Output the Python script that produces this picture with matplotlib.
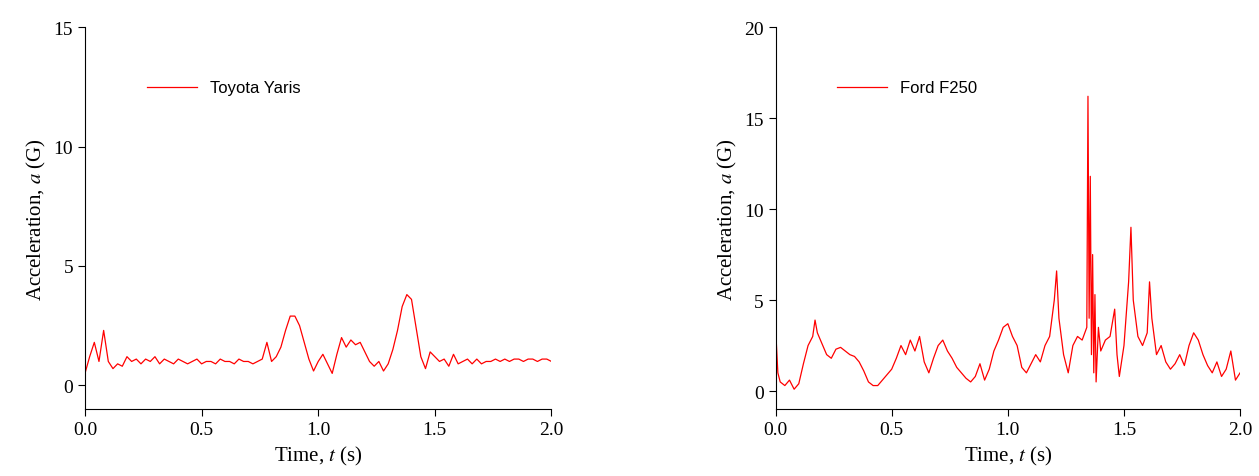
import numpy as np
import matplotlib.pyplot as plt

plt.rcParams["mathtext.fontset"] = "stix"

# ── Data ──────────────────────────────────────────────────────────────────────
yaris_t = [i * 0.02 for i in range(101)]
yaris_a = [0.5, 1.2, 1.8, 1.0, 2.3, 1.0, 0.7, 0.9, 0.8, 1.2,
           1.0, 1.1, 0.9, 1.1, 1.0, 1.2, 0.9, 1.1, 1.0, 0.9,
           1.1, 1.0, 0.9, 1.0, 1.1, 0.9, 1.0, 1.0, 0.9, 1.1,
           1.0, 1.0, 0.9, 1.1, 1.0, 1.0, 0.9, 1.0, 1.1, 1.8,
           1.0, 1.2, 1.6, 2.3, 2.9, 2.9, 2.5, 1.8, 1.1, 0.6,
           1.0, 1.3, 0.9, 0.5, 1.3, 2.0, 1.6, 1.9, 1.7, 1.8,
           1.4, 1.0, 0.8, 1.0, 0.6, 0.9, 1.5, 2.3, 3.3, 3.8,
           3.6, 2.4, 1.2, 0.7, 1.4, 1.2, 1.0, 1.1, 0.8, 1.3,
           0.9, 1.0, 1.1, 0.9, 1.1, 0.9, 1.0, 1.0, 1.1, 1.0,
           1.1, 1.0, 1.1, 1.1, 1.0, 1.1, 1.1, 1.0, 1.1, 1.1, 1.0]

ford_t = [0.00, 0.01, 0.02, 0.04, 0.06, 0.08, 0.10, 0.12, 0.14, 0.16, 0.17, 0.18,
          0.20, 0.22, 0.24, 0.26, 0.28, 0.30, 0.32, 0.34, 0.36, 0.38, 0.40, 0.42,
          0.44, 0.46, 0.48, 0.50, 0.52, 0.54, 0.56, 0.58, 0.60, 0.62, 0.64, 0.66,
          0.68, 0.70, 0.72, 0.74, 0.76, 0.78, 0.80, 0.82, 0.84, 0.86, 0.88, 0.90,
          0.92, 0.94, 0.96, 0.98, 1.00, 1.02, 1.04, 1.06, 1.08, 1.10, 1.12, 1.14,
          1.16, 1.18, 1.20, 1.21, 1.22, 1.24, 1.26, 1.28, 1.30, 1.32, 1.34, 1.345,
          1.35, 1.355, 1.36, 1.365, 1.37, 1.375, 1.38, 1.39, 1.40, 1.42, 1.44, 1.46,
          1.47, 1.48, 1.50, 1.52, 1.53, 1.54, 1.56, 1.58, 1.60, 1.61, 1.62, 1.64,
          1.66, 1.68, 1.70, 1.72, 1.74, 1.76, 1.78, 1.80, 1.82, 1.84, 1.86, 1.88,
          1.90, 1.92, 1.94, 1.96, 1.98, 2.00]
ford_a = [3.5, 1.0, 0.5, 0.3, 0.6, 0.1, 0.4, 1.5, 2.5, 3.0, 3.9, 3.2,
          2.6, 2.0, 1.8, 2.3, 2.4, 2.2, 2.0, 1.9, 1.6, 1.1, 0.5, 0.3,
          0.3, 0.6, 0.9, 1.2, 1.8, 2.5, 2.0, 2.8, 2.2, 3.0, 1.6, 1.0,
          1.8, 2.5, 2.8, 2.2, 1.8, 1.3, 1.0, 0.7, 0.5, 0.8, 1.5, 0.6,
          1.2, 2.2, 2.8, 3.5, 3.7, 3.0, 2.5, 1.3, 1.0, 1.5, 2.0, 1.6,
          2.5, 3.0, 5.0, 6.6, 4.0, 2.0, 1.0, 2.5, 3.0, 2.8, 3.5, 16.2,
          4.0, 11.8, 2.0, 7.5, 1.0, 5.3, 0.5, 3.5, 2.2, 2.8, 3.0, 4.5,
          2.0, 0.8, 2.5, 6.0, 9.0, 5.0, 3.0, 2.5, 3.2, 6.0, 4.0, 2.0,
          2.5, 1.6, 1.2, 1.5, 2.0, 1.4, 2.5, 3.2, 2.8, 2.0, 1.4, 1.0,
          1.6, 0.8, 1.2, 2.2, 0.6, 1.0]

SERIF = "Liberation Serif"
SANS = "Liberation Sans"

fig = plt.figure(figsize=(12.59, 4.77), dpi=100)
ax1 = fig.add_axes([0.0675, 0.140, 0.3705, 0.801])
ax2 = fig.add_axes([0.616, 0.140, 0.369, 0.801])

panels = [
    (ax1, yaris_t, yaris_a, "Toyota Yaris", (-1, 15), [0, 5, 10, 15]),
    (ax2, ford_t, ford_a, "Ford F250", (-1, 20), [0, 5, 10, 15, 20]),
]
for ax, t, a, label, ylim, yticks in panels:
    ax.plot(t, a, color="red", lw=0.9, label=label)
    ax.set_xlim(0, 2.0)
    ax.set_ylim(*ylim)
    ax.set_xticks([0.0, 0.5, 1.0, 1.5, 2.0])
    ax.set_yticks(yticks)
    for s in ("top", "right"):
        ax.spines[s].set_visible(False)
    ax.tick_params(labelsize=14, direction="out", length=5)
    for lbl in ax.get_xticklabels() + ax.get_yticklabels():
        lbl.set_fontfamily(SERIF)
    ax.set_xlabel("Time, $t$ (s)", fontsize=15, family=SERIF)
    ax.set_ylabel("Acceleration, $a$ (G)", fontsize=15, family=SERIF)
    ax.legend(loc="upper left", bbox_to_anchor=(0.1, 0.9), frameon=False,
              prop={"family": SANS, "size": 12}, handlelength=3)

fig.savefig("out.png", dpi=100, facecolor="white")
